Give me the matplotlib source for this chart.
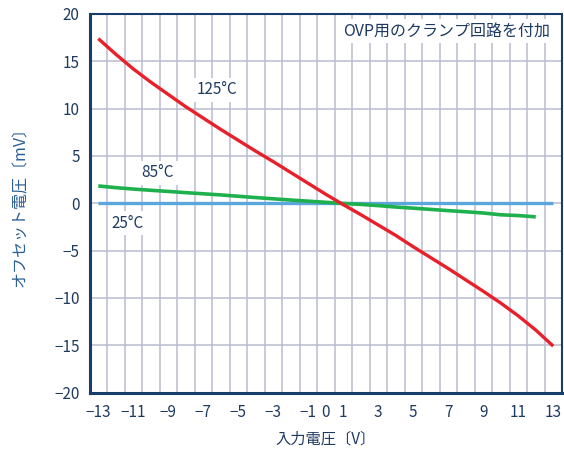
import matplotlib
matplotlib.use("Agg")
import matplotlib.pyplot as plt
import numpy as np

plt.rcParams['font.family'] = ['Noto Sans CJK JP', 'DejaVu Sans']

# Data
x_vals = [-13, -12, -11, -10, -9, -8, -7, -6, -5, -4, -3, -2, -1, 0, 1, 2, 3, 4, 5, 6, 7, 8, 9, 10, 11, 12, 13]
red_125 = [17.4, 15.75, 14.2, 12.8, 11.5, 10.2, 9.0, 7.8, 6.65, 5.5, 4.4, 3.25, 2.1, 0.95, -0.15, -1.2, -2.3, -3.4,
           -4.6, -5.75, -6.9, -8.1, -9.3, -10.55, -11.9, -13.4, -15.1]
x_green = [-13, -12, -11, -10, -9, -8, -7, -6, -5, -4, -3, -2, -1, 0, 1, 2, 3, 4, 5, 6, 7, 8, 9, 10, 11, 12]
green_85 = [1.83, 1.65, 1.5, 1.37, 1.25, 1.12, 1.0, 0.88, 0.74, 0.6, 0.47, 0.34, 0.22, 0.1, -0.02, -0.12,
            -0.25, -0.4, -0.52, -0.65, -0.78, -0.9, -1.03, -1.22, -1.3, -1.44]
blue_25 = [0.0] * len(x_vals)

x_ticks = [-13, -11, -9, -7, -5, -3, -1, 0, 1, 3, 5, 7, 9, 11, 13]
y_ticks = [-20, -15, -10, -5, 0, 5, 10, 15, 20]

navy = '#173e6b'
text_c = '#1f3a60'
grid_c = '#b9bccf'

fig = plt.figure(figsize=(5.64, 4.49), dpi=100)
ax = fig.add_axes([89.5/564, 1-392.5/449, (562-89.5)/564, (392.5-14)/449])

ax.plot(x_vals, blue_25, color='#5ba6dd', lw=2.4, zorder=2, solid_capstyle='butt')
ax.plot(x_green, green_85, color='#1fb04e', lw=2.6, zorder=2.1, solid_capstyle='butt')
ax.plot(x_vals, red_125, color='#e8202a', lw=2.4, zorder=2.2, solid_capstyle='butt')

ax.set_xlim(-13.5, 13.5)
ax.set_ylim(-20, 20)
ax.set_xticks(x_ticks)
ax.set_xticklabels([str(t).replace('-', '\u2212') for t in x_ticks])
ax.set_yticks(y_ticks)
ax.set_yticklabels([str(t).replace('-', '\u2212') for t in y_ticks])
ax.set_xticks(np.arange(-12.5, 13.0, 1.0), minor=True)
ax.tick_params(axis='both', which='both', length=0, labelsize=11, colors=text_c)
ax.tick_params(axis='x', pad=8)
ax.tick_params(axis='y', pad=7)
ax.grid(True, which='minor', axis='x', color=grid_c, lw=1.1)
ax.grid(True, which='major', axis='y', color=grid_c, lw=1.1)
ax.set_axisbelow(True)

for side in ['left', 'bottom']:
    ax.spines[side].set_linewidth(2.2)
    ax.spines[side].set_color(navy)
for side in ['top', 'right']:
    ax.spines[side].set_linewidth(1.5)
    ax.spines[side].set_color(navy)

ax.set_xlabel('入力電圧〔V〕', fontsize=11, color=text_c, labelpad=7)
ax.set_ylabel('オフセット電圧〔mV〕', fontsize=11.5, color='#2b5f93', labelpad=18)

bb = dict(facecolor='white', edgecolor='none', pad=2.5)
ax.text(-6.2, 12.0, '125°C', fontsize=11, color=text_c, ha='center', va='center', bbox=bb)
ax.text(-9.6, 3.2, '85°C', fontsize=11, color=text_c, ha='center', va='center', bbox=bb)
ax.text(-11.3, -2.1, '25°C', fontsize=11, color=text_c, ha='center', va='center', bbox=bb)
ax.text(12.8, 18.2, 'OVP用のクランプ回路を付加', fontsize=11.5, color=text_c, ha='right', va='center', bbox=bb)

fig.savefig('out.png', dpi=100)
